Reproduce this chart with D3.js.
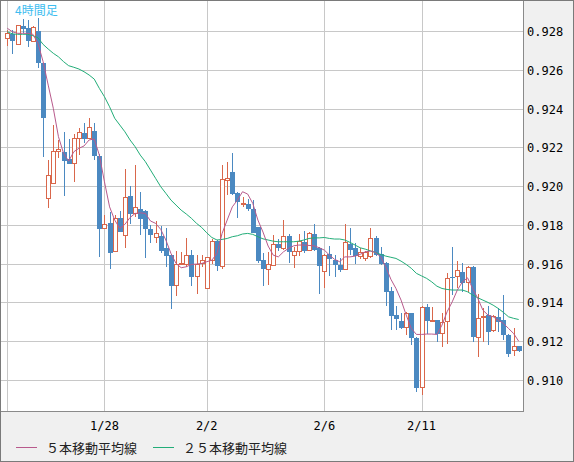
<!DOCTYPE html>
<html>
<head>
<meta charset="utf-8">
<script src="https://cdn.jsdelivr.net/npm/d3@7"></script>
<style>
  html, body { margin: 0; padding: 0; background: #f0f0f0; }
  svg { display: block; }
  .tick-label { font-family: "DejaVu Sans Mono", monospace; font-size: 12px; fill: #000; }
  .legend-text { font-family: "Noto Sans CJK JP", sans-serif; font-size: 13px; fill: #222; }
</style>
</head>
<body>
<div id="chart"></div>
<script>
// 4-hour candles (index 0 = leftmost candle)
const opens = [
  0.92762, 0.92785, 0.92731, 0.92826, 0.92814, 0.92747, 0.92800, 0.92637, 0.91937, 0.92014,
  0.92177, 0.92177, 0.92140, 0.92117, 0.92246, 0.92275, 0.92243, 0.92284, 0.92157, 0.91782,
  0.91808, 0.91661, 0.91833, 0.91744, 0.91949, 0.91859, 0.91880, 0.91871, 0.91778, 0.91734,
  0.91744, 0.91682, 0.91644, 0.91486, 0.91596, 0.91596, 0.91644, 0.91532, 0.91601, 0.91472,
  0.91618, 0.91716, 0.91584, 0.92031, 0.92071, 0.91966, 0.91907, 0.91907, 0.91882, 0.91787,
  0.91618, 0.91570, 0.91593, 0.91701, 0.91679, 0.91742, 0.91641, 0.91665, 0.91710, 0.91667,
  0.91753, 0.91679, 0.91558, 0.91648, 0.91618, 0.91593, 0.91572, 0.91704, 0.91679, 0.91636,
  0.91627, 0.91636, 0.91734, 0.91648, 0.91605, 0.91458, 0.91335, 0.91304, 0.91271, 0.91343,
  0.91218, 0.90960, 0.91378, 0.91304, 0.91309, 0.91240, 0.91300, 0.91529, 0.91532, 0.91555,
  0.91503, 0.91584, 0.91219, 0.91324, 0.91335, 0.91254, 0.91326, 0.91309, 0.91231, 0.91151,
  0.91175
];
const highs = [
  0.92805, 0.92805, 0.92831, 0.92862, 0.92857, 0.92826, 0.92869, 0.92637, 0.92134, 0.92315,
  0.92238, 0.92281, 0.92243, 0.92269, 0.92298, 0.92323, 0.92349, 0.92327, 0.92164, 0.91851,
  0.91868, 0.91851, 0.91871, 0.92088, 0.92002, 0.92109, 0.91968, 0.91876, 0.91799, 0.91820,
  0.91794, 0.91782, 0.91644, 0.91665, 0.91658, 0.91730, 0.91670, 0.91644, 0.91644, 0.91636,
  0.91727, 0.91722, 0.92109, 0.92126, 0.92172, 0.91971, 0.91945, 0.91931, 0.91928, 0.91787,
  0.91656, 0.91661, 0.91747, 0.91727, 0.91825, 0.91753, 0.91687, 0.91753, 0.91770, 0.91761,
  0.91804, 0.91687, 0.91648, 0.91691, 0.91644, 0.91627, 0.91804, 0.91782, 0.91708, 0.91682,
  0.91665, 0.91785, 0.91742, 0.91687, 0.91610, 0.91481, 0.91381, 0.91348, 0.91352, 0.91348,
  0.91223, 0.91383, 0.91390, 0.91378, 0.91312, 0.91348, 0.91553, 0.91687, 0.91613, 0.91601,
  0.91587, 0.91587, 0.91446, 0.91369, 0.91383, 0.91335, 0.91372, 0.91438, 0.91235, 0.91266,
  0.91175
];
const lows = [
  0.92724, 0.92680, 0.92728, 0.92788, 0.92716, 0.92745, 0.92607, 0.92151, 0.91885, 0.92014,
  0.92143, 0.91950, 0.92115, 0.92019, 0.92160, 0.92220, 0.92243, 0.92134, 0.91636, 0.91782,
  0.91575, 0.91658, 0.91761, 0.91682, 0.91806, 0.91842, 0.91747, 0.91630, 0.91708, 0.91708,
  0.91653, 0.91581, 0.91364, 0.91434, 0.91593, 0.91584, 0.91486, 0.91443, 0.91584, 0.91472,
  0.91598, 0.91563, 0.91575, 0.91954, 0.91954, 0.91833, 0.91894, 0.91871, 0.91756, 0.91605,
  0.91486, 0.91489, 0.91589, 0.91665, 0.91670, 0.91605, 0.91579, 0.91641, 0.91656, 0.91665,
  0.91667, 0.91443, 0.91476, 0.91538, 0.91532, 0.91558, 0.91567, 0.91644, 0.91598, 0.91624,
  0.91615, 0.91627, 0.91641, 0.91593, 0.91383, 0.91257, 0.91257, 0.91261, 0.91231, 0.91180,
  0.90939, 0.90925, 0.91235, 0.91297, 0.91197, 0.91171, 0.91188, 0.91438, 0.91472, 0.91455,
  0.91455, 0.91194, 0.91120, 0.91197, 0.91183, 0.91249, 0.91249, 0.91206, 0.91120, 0.91125,
  0.91145
];
const closes = [
  0.92785, 0.92750, 0.92826, 0.92810, 0.92750, 0.92817, 0.92637, 0.92353, 0.92057, 0.92181,
  0.92189, 0.92131, 0.92115, 0.92246, 0.92277, 0.92243, 0.92303, 0.92157, 0.91777, 0.91802,
  0.91656, 0.91833, 0.91765, 0.91942, 0.91854, 0.91890, 0.91830, 0.91777, 0.91747, 0.91756,
  0.91667, 0.91641, 0.91486, 0.91596, 0.91601, 0.91644, 0.91532, 0.91598, 0.91618, 0.91632,
  0.91716, 0.91587, 0.92035, 0.92040, 0.91959, 0.91919, 0.91911, 0.91882, 0.91759, 0.91615,
  0.91572, 0.91596, 0.91699, 0.91682, 0.91742, 0.91658, 0.91665, 0.91716, 0.91667, 0.91756,
  0.91670, 0.91589, 0.91644, 0.91624, 0.91593, 0.91567, 0.91710, 0.91670, 0.91641, 0.91656,
  0.91656, 0.91730, 0.91644, 0.91598, 0.91455, 0.91331, 0.91314, 0.91269, 0.91343, 0.91219,
  0.90961, 0.91372, 0.91305, 0.91307, 0.91235, 0.91297, 0.91524, 0.91525, 0.91567, 0.91498,
  0.91581, 0.91223, 0.91317, 0.91329, 0.91249, 0.91329, 0.91297, 0.91231, 0.91132, 0.91175,
  0.91151
];
// moving average lines as drawn in the picture
const ma5 = [
  0.92814, 0.92796, 0.92788, 0.92788, 0.92788, 0.92783, 0.92737, 0.92642, 0.92521, 0.92401,
  0.92255, 0.92169, 0.92129, 0.92177, 0.92195, 0.92207, 0.92238, 0.92243, 0.92160, 0.92022,
  0.91893, 0.91825, 0.91782, 0.91803, 0.91838, 0.91859, 0.91862, 0.91859, 0.91820, 0.91808,
  0.91777, 0.91722, 0.91653, 0.91601, 0.91579, 0.91584, 0.91596, 0.91598, 0.91601, 0.91610,
  0.91618, 0.91653, 0.91756, 0.91825, 0.91893, 0.91928, 0.91971, 0.91959, 0.91911, 0.91825,
  0.91763, 0.91691, 0.91644, 0.91635, 0.91661, 0.91679, 0.91692, 0.91696, 0.91696, 0.91694,
  0.91692, 0.91682, 0.91670, 0.91644, 0.91622, 0.91610, 0.91635, 0.91635, 0.91639, 0.91648,
  0.91661, 0.91665, 0.91658, 0.91635, 0.91584, 0.91520, 0.91472, 0.91412, 0.91335, 0.91266,
  0.91235, 0.91235, 0.91237, 0.91237, 0.91235, 0.91283, 0.91352, 0.91403, 0.91464, 0.91506,
  0.91527, 0.91472, 0.91421, 0.91360, 0.91335, 0.91326, 0.91309, 0.91292, 0.91266, 0.91240,
  0.91200
];
const ma25 = [
  0.92796, 0.92785, 0.92783, 0.92783, 0.92783, 0.92776, 0.92765, 0.92731, 0.92707, 0.92685,
  0.92667, 0.92642, 0.92621, 0.92613, 0.92604, 0.92590, 0.92573, 0.92552, 0.92504, 0.92461,
  0.92409, 0.92350, 0.92315, 0.92280, 0.92238, 0.92203, 0.92160, 0.92126, 0.92083, 0.92040,
  0.91997, 0.91963, 0.91928, 0.91902, 0.91876, 0.91856, 0.91834, 0.91808, 0.91787, 0.91759,
  0.91735, 0.91722, 0.91725, 0.91730, 0.91739, 0.91744, 0.91753, 0.91756, 0.91751, 0.91739,
  0.91728, 0.91722, 0.91716, 0.91713, 0.91713, 0.91713, 0.91713, 0.91716, 0.91722, 0.91730,
  0.91733, 0.91733, 0.91735, 0.91730, 0.91727, 0.91727, 0.91722, 0.91710, 0.91696, 0.91682,
  0.91675, 0.91666, 0.91658, 0.91648, 0.91639, 0.91633, 0.91627, 0.91613, 0.91596, 0.91576,
  0.91550, 0.91537, 0.91524, 0.91506, 0.91484, 0.91472, 0.91467, 0.91464, 0.91464, 0.91464,
  0.91455, 0.91438, 0.91424, 0.91412, 0.91400, 0.91386, 0.91369, 0.91349, 0.91326, 0.91318,
  0.91312
];

// axis ticks
const priceTicks = [0.910, 0.912, 0.914, 0.916, 0.918, 0.920, 0.922, 0.924, 0.926, 0.928];
const dayGridIdx = [0, 19, 39, 62, 81];
const dateLabels = ["1/28", "2/2", "2/6", "2/11"];
const dateLabelIdx = [19, 39, 62, 81];

const legendNames = ["５本移動平均線", "２５本移動平均線"];
const titleText = "4時間足";

// layout
const W = 574, H = 462;
const plot = { left: 1, top: 1, right: 523, bottom: 411 };

const colUp = "#d9674b";
const colDown = "#4b89c1";
const colMa5 = "#b85a8c";
const colMa25 = "#22ad78";
const gridCol = "#c8c8c8";

const svg = d3.select("#chart")
  .append("svg")
  .attr("width", W)
  .attr("height", H);

svg.append("rect")
  .attr("width", W).attr("height", H)
  .attr("fill", "#f0f0f0");

svg.append("rect")
  .attr("x", plot.left).attr("y", plot.top)
  .attr("width", plot.right - plot.left)
  .attr("height", plot.bottom - plot.top)
  .attr("fill", "#fff");

const x = d3.scaleLinear()
  .domain([0, closes.length - 1])
  .range([7.3, 518.7]);

const y = d3.scaleLinear()
  .domain([0.910, 0.928])
  .range([380, 31]);

const px = v => Math.round(v) + 0.5;

// gridlines
const grid = svg.append("g").attr("shape-rendering", "crispEdges");
grid.selectAll(".hgrid")
  .data(priceTicks)
  .enter().append("line")
  .attr("x1", plot.left).attr("x2", plot.right)
  .attr("y1", d => px(y(d))).attr("y2", d => px(y(d)))
  .attr("stroke", gridCol);

grid.selectAll(".vgrid")
  .data(dayGridIdx)
  .enter().append("line")
  .attr("y1", plot.top).attr("y2", plot.bottom)
  .attr("x1", d => px(x(d))).attr("x2", d => px(x(d)))
  .attr("stroke", gridCol);

// candles
const candles = d3.range(closes.length).map(i => ({
  i, o: opens[i], h: highs[i], l: lows[i], c: closes[i]
}));

const cg = svg.append("g").attr("shape-rendering", "crispEdges");
const candle = cg.selectAll("g")
  .data(candles)
  .enter().append("g");

candle.append("line")
  .attr("x1", d => px(x(d.i))).attr("x2", d => px(x(d.i)))
  .attr("y1", d => y(d.h)).attr("y2", d => y(d.l))
  .attr("stroke", d => d.c >= d.o ? colUp : colDown);

candle.append("rect")
  .attr("x", d => d.c >= d.o ? Math.round(x(d.i)) - 1.5 : Math.round(x(d.i)) - 2)
  .attr("width", d => d.c >= d.o ? 4 : 5)
  .attr("y", d => y(Math.max(d.o, d.c)))
  .attr("height", d => Math.max(1, Math.abs(y(d.o) - y(d.c))))
  .attr("fill", d => d.c >= d.o ? "#fff" : colDown)
  .attr("stroke", d => d.c >= d.o ? colUp : "none");

// moving averages
const line = d3.line()
  .x((d, i) => x(i))
  .y(d => y(d));

svg.append("path")
  .datum(ma25)
  .attr("fill", "none")
  .attr("stroke", colMa25)
  .attr("stroke-width", 1)
  .attr("d", line);

svg.append("path")
  .datum(ma5)
  .attr("fill", "none")
  .attr("stroke", colMa5)
  .attr("stroke-width", 1)
  .attr("d", line);

// plot frame (right and bottom)
const frame = svg.append("g").attr("shape-rendering", "crispEdges");
frame.append("line")
  .attr("x1", plot.right + 0.5).attr("x2", plot.right + 0.5)
  .attr("y1", 0).attr("y2", plot.bottom + 1)
  .attr("stroke", "#8a8a8a");
frame.append("line")
  .attr("x1", 0).attr("x2", plot.right + 1)
  .attr("y1", plot.bottom + 0.5).attr("y2", plot.bottom + 0.5)
  .attr("stroke", "#8a8a8a");

// price labels
svg.selectAll(".ylab")
  .data(priceTicks)
  .enter().append("text")
  .attr("class", "tick-label")
  .attr("x", 527)
  .attr("y", d => y(d) + 5)
  .text(d => d3.format(".3f")(d));

// date labels
svg.selectAll(".xlab")
  .data(dateLabels)
  .enter().append("text")
  .attr("class", "tick-label")
  .attr("text-anchor", "middle")
  .attr("x", (d, i) => x(dateLabelIdx[i]))
  .attr("y", 430)
  .text(d => d);

// title in the corner
svg.append("text")
  .attr("x", 15)
  .attr("y", 15)
  .attr("fill", "#3dbdf0")
  .style("font-family", "'Noto Sans CJK JP', sans-serif")
  .style("font-size", "12px")
  .text(titleText);

// legend
const legendX = [16, 153];
const legendCols = [colMa5, colMa25];
legendNames.forEach((name, k) => {
  svg.append("line")
    .attr("x1", legendX[k]).attr("x2", legendX[k] + 21)
    .attr("y1", 447.5).attr("y2", 447.5)
    .attr("stroke", legendCols[k]);
  svg.append("text")
    .attr("class", "legend-text")
    .attr("x", legendX[k] + 30)
    .attr("y", 453)
    .text(name);
});

// outer border
svg.append("rect")
  .attr("x", 0.5).attr("y", 0.5)
  .attr("width", W - 1).attr("height", H - 1)
  .attr("fill", "none")
  .attr("stroke", "#7a7a7a")
  .attr("shape-rendering", "crispEdges");
</script>
</body>
</html>
